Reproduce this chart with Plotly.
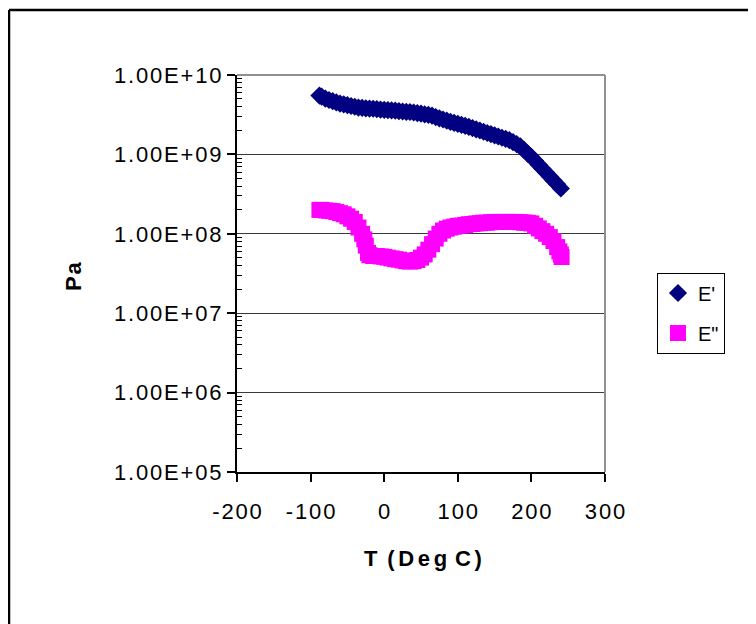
import plotly.graph_objects as go

# Storage modulus E' (Pa) vs temperature (deg C)
t_e1 = [-88, -85, -80, -75, -70, -65, -60, -55, -50, -45, -40, -35, -30, -25, -20, -15,
        -10, -5, 0, 5, 10, 15, 20, 25, 30, 35, 40, 45, 50, 55, 60, 65, 70, 75, 80, 85,
        90, 95, 100, 105, 110, 115, 120, 125, 130, 135, 140, 145, 150, 155, 160, 165,
        170, 175, 180, 185, 190, 195, 200, 205, 210, 215, 220, 225, 230, 235, 240]
e1 = [5.50e9, 5.35e9, 5.05e9, 4.84e9, 4.68e9, 4.52e9, 4.37e9, 4.27e9, 4.17e9, 4.07e9,
      3.98e9, 3.89e9, 3.85e9, 3.80e9, 3.78e9, 3.76e9, 3.72e9, 3.67e9, 3.63e9, 3.61e9,
      3.59e9, 3.55e9, 3.51e9, 3.47e9, 3.43e9, 3.42e9, 3.37e9, 3.31e9, 3.26e9, 3.20e9,
      3.15e9, 3.07e9, 2.95e9, 2.85e9, 2.75e9, 2.66e9, 2.57e9, 2.50e9, 2.43e9, 2.36e9,
      2.29e9, 2.22e9, 2.14e9, 2.07e9, 2.00e9, 1.93e9, 1.86e9, 1.80e9, 1.74e9, 1.68e9,
      1.62e9, 1.57e9, 1.51e9, 1.43e9, 1.35e9, 1.26e9, 1.14e9, 1.02e9, 9.3e8, 8.3e8,
      7.4e8, 6.6e8, 5.9e8, 5.25e8, 4.7e8, 4.2e8, 3.72e8]

# Loss modulus E'' (Pa) vs temperature (deg C)
t_e2 = [-88, -85, -80, -75, -70, -65, -60, -55, -50, -45, -40, -35, -30, -27, -25, -22,
        -20, -15, -10, -5, 0, 5, 10, 15, 20, 25, 30, 35, 40, 45, 50, 55, 60, 65, 70, 75,
        80, 85, 90, 95, 100, 105, 110, 115, 120, 125, 130, 135, 140, 145, 150, 155, 160,
        165, 170, 175, 180, 185, 190, 195, 200, 205, 210, 215, 220, 225, 230, 235, 238,
        240, 241]
e2 = [2.00e8, 2.00e8, 1.97e8, 1.95e8, 1.93e8, 1.88e8, 1.82e8, 1.76e8, 1.66e8, 1.55e8,
      1.41e8, 1.20e8, 1.00e8, 8.5e7, 7.1e7, 5.75e7, 5.37e7, 5.25e7, 5.25e7, 5.19e7,
      5.13e7, 5.01e7, 4.90e7, 4.79e7, 4.73e7, 4.62e7, 4.52e7, 4.47e7, 4.52e7, 4.68e7,
      5.01e7, 5.50e7, 6.31e7, 7.41e7, 8.71e7, 1.00e8, 1.10e8, 1.16e8, 1.20e8, 1.23e8,
      1.26e8, 1.27e8, 1.29e8, 1.32e8, 1.33e8, 1.35e8, 1.36e8, 1.38e8, 1.38e8, 1.40e8,
      1.41e8, 1.41e8, 1.41e8, 1.41e8, 1.41e8, 1.41e8, 1.41e8, 1.40e8, 1.38e8, 1.38e8,
      1.35e8, 1.26e8, 1.17e8, 1.08e8, 1.00e8, 9.1e7, 8.1e7, 6.8e7, 6.0e7, 5.5e7, 5.1e7]

x_ticks = [-200, -100, 0, 100, 200, 300]
x_ticktext = ["-200", "-100", "0", "100", "200", "300"]
y_ticks = [1e5, 1e6, 1e7, 1e8, 1e9, 1e10]
y_ticktext = ["1.00E+05", "1.00E+06", "1.00E+07", "1.00E+08", "1.00E+09", "1.00E+10"]
y_minor = [k * 10 ** e for e in range(5, 10) for k in range(2, 10)]

FONT = "Arial, Liberation Sans, sans-serif"
HS = "\u200a"  # hair space, to mimic the wide letter spacing


def spaced(s):
    return HS.join(s)


fig = go.Figure()
fig.add_trace(go.Scatter(x=t_e1, y=e1, mode="markers", name="E'", legendgroup="a",
                         marker=dict(symbol="diamond", size=14, color="#000080",
                                     line=dict(width=0))))
fig.add_trace(go.Scatter(x=t_e2, y=e2, mode="markers", name='E"', legendgroup="b",
                         marker=dict(symbol="square", size=16, color="#FF00FF",
                                     line=dict(width=0))))

# page has an 8px body margin, so figure coords = reference coords - 8
L, T, PW, PH = 229, 67, 368, 397
W, H = 748, 616
BX = (1 - L) / PW  # outer frame left edge, at figure x = 1

fig.update_layout(
    width=W, height=H,
    margin=dict(l=L, r=W - L - PW, t=T, b=H - T - PH),
    paper_bgcolor="white", plot_bgcolor="white",
    font=dict(family=FONT, color="black"),
    showlegend=True,
    legend=dict(x=(657 - 237) / PW, xanchor="left", y=(472 - 313) / PH, yanchor="middle",
                bordercolor="black", borderwidth=1, bgcolor="white",
                font=dict(size=20, family=FONT), tracegroupgap=11,
                traceorder="grouped", itemsizing="trace"),
    xaxis=dict(range=[-200, 300], tickvals=x_ticks, ticktext=[spaced(t) for t in x_ticktext],
               showgrid=False, zeroline=False, showline=True, linecolor="black",
               linewidth=1.5, ticks="outside", ticklen=8, tickwidth=1.5,
               tickcolor="black", tickfont=dict(size=22, family=FONT),
               ticklabelstandoff=11),
    yaxis=dict(type="log", range=[5, 10], tickvals=y_ticks,
               ticktext=[spaced(t) for t in y_ticktext],
               showgrid=True, gridcolor="#3a3a3a", gridwidth=1, zeroline=False,
               showline=True, linecolor="black", linewidth=2, ticks="outside",
               ticklen=8, tickwidth=1.5, tickcolor="black",
               tickfont=dict(size=22, family=FONT), ticklabelstandoff=1,
               minor=dict(tickvals=y_minor, ticks="inside", ticklen=5, tickwidth=1,
                          tickcolor="black", showgrid=False)),
    shapes=[
        dict(type="line", xref="paper", yref="paper", x0=0, x1=1, y0=1, y1=1,
             line=dict(color="#909090", width=2), layer="above"),
        dict(type="line", xref="paper", yref="paper", x0=1, x1=1, y0=0, y1=1,
             line=dict(color="#909090", width=2), layer="above"),
        dict(type="line", xref="paper", yref="paper", x0=BX, x1=1.45,
             y0=(472 - 10) / PH, y1=(472 - 10) / PH,
             line=dict(color="black", width=2.5), layer="above"),
        dict(type="line", xref="paper", yref="paper", x0=BX, x1=BX,
             y0=(472 - 10) / PH, y1=-0.45,
             line=dict(color="black", width=2.5), layer="above"),
    ],
    annotations=[
        dict(text="<b>P\u200aa</b>", xref="paper", yref="paper", x=(73 - 237) / PW,
             y=(472 - 276) / PH, xanchor="center", yanchor="middle", textangle=-90,
             showarrow=False, font=dict(size=22, family=FONT)),
        dict(text="<b>T\u200a \u200a(\u2006D\u2006e\u2006g \u200aC\u2006)</b>", xref="paper",
             yref="paper", x=(423 - 237) / PW, y=(472 - 558) / PH, xanchor="center",
             yanchor="middle", showarrow=False, font=dict(size=22, family=FONT)),
    ],
)

fig.write_html("out.html")
